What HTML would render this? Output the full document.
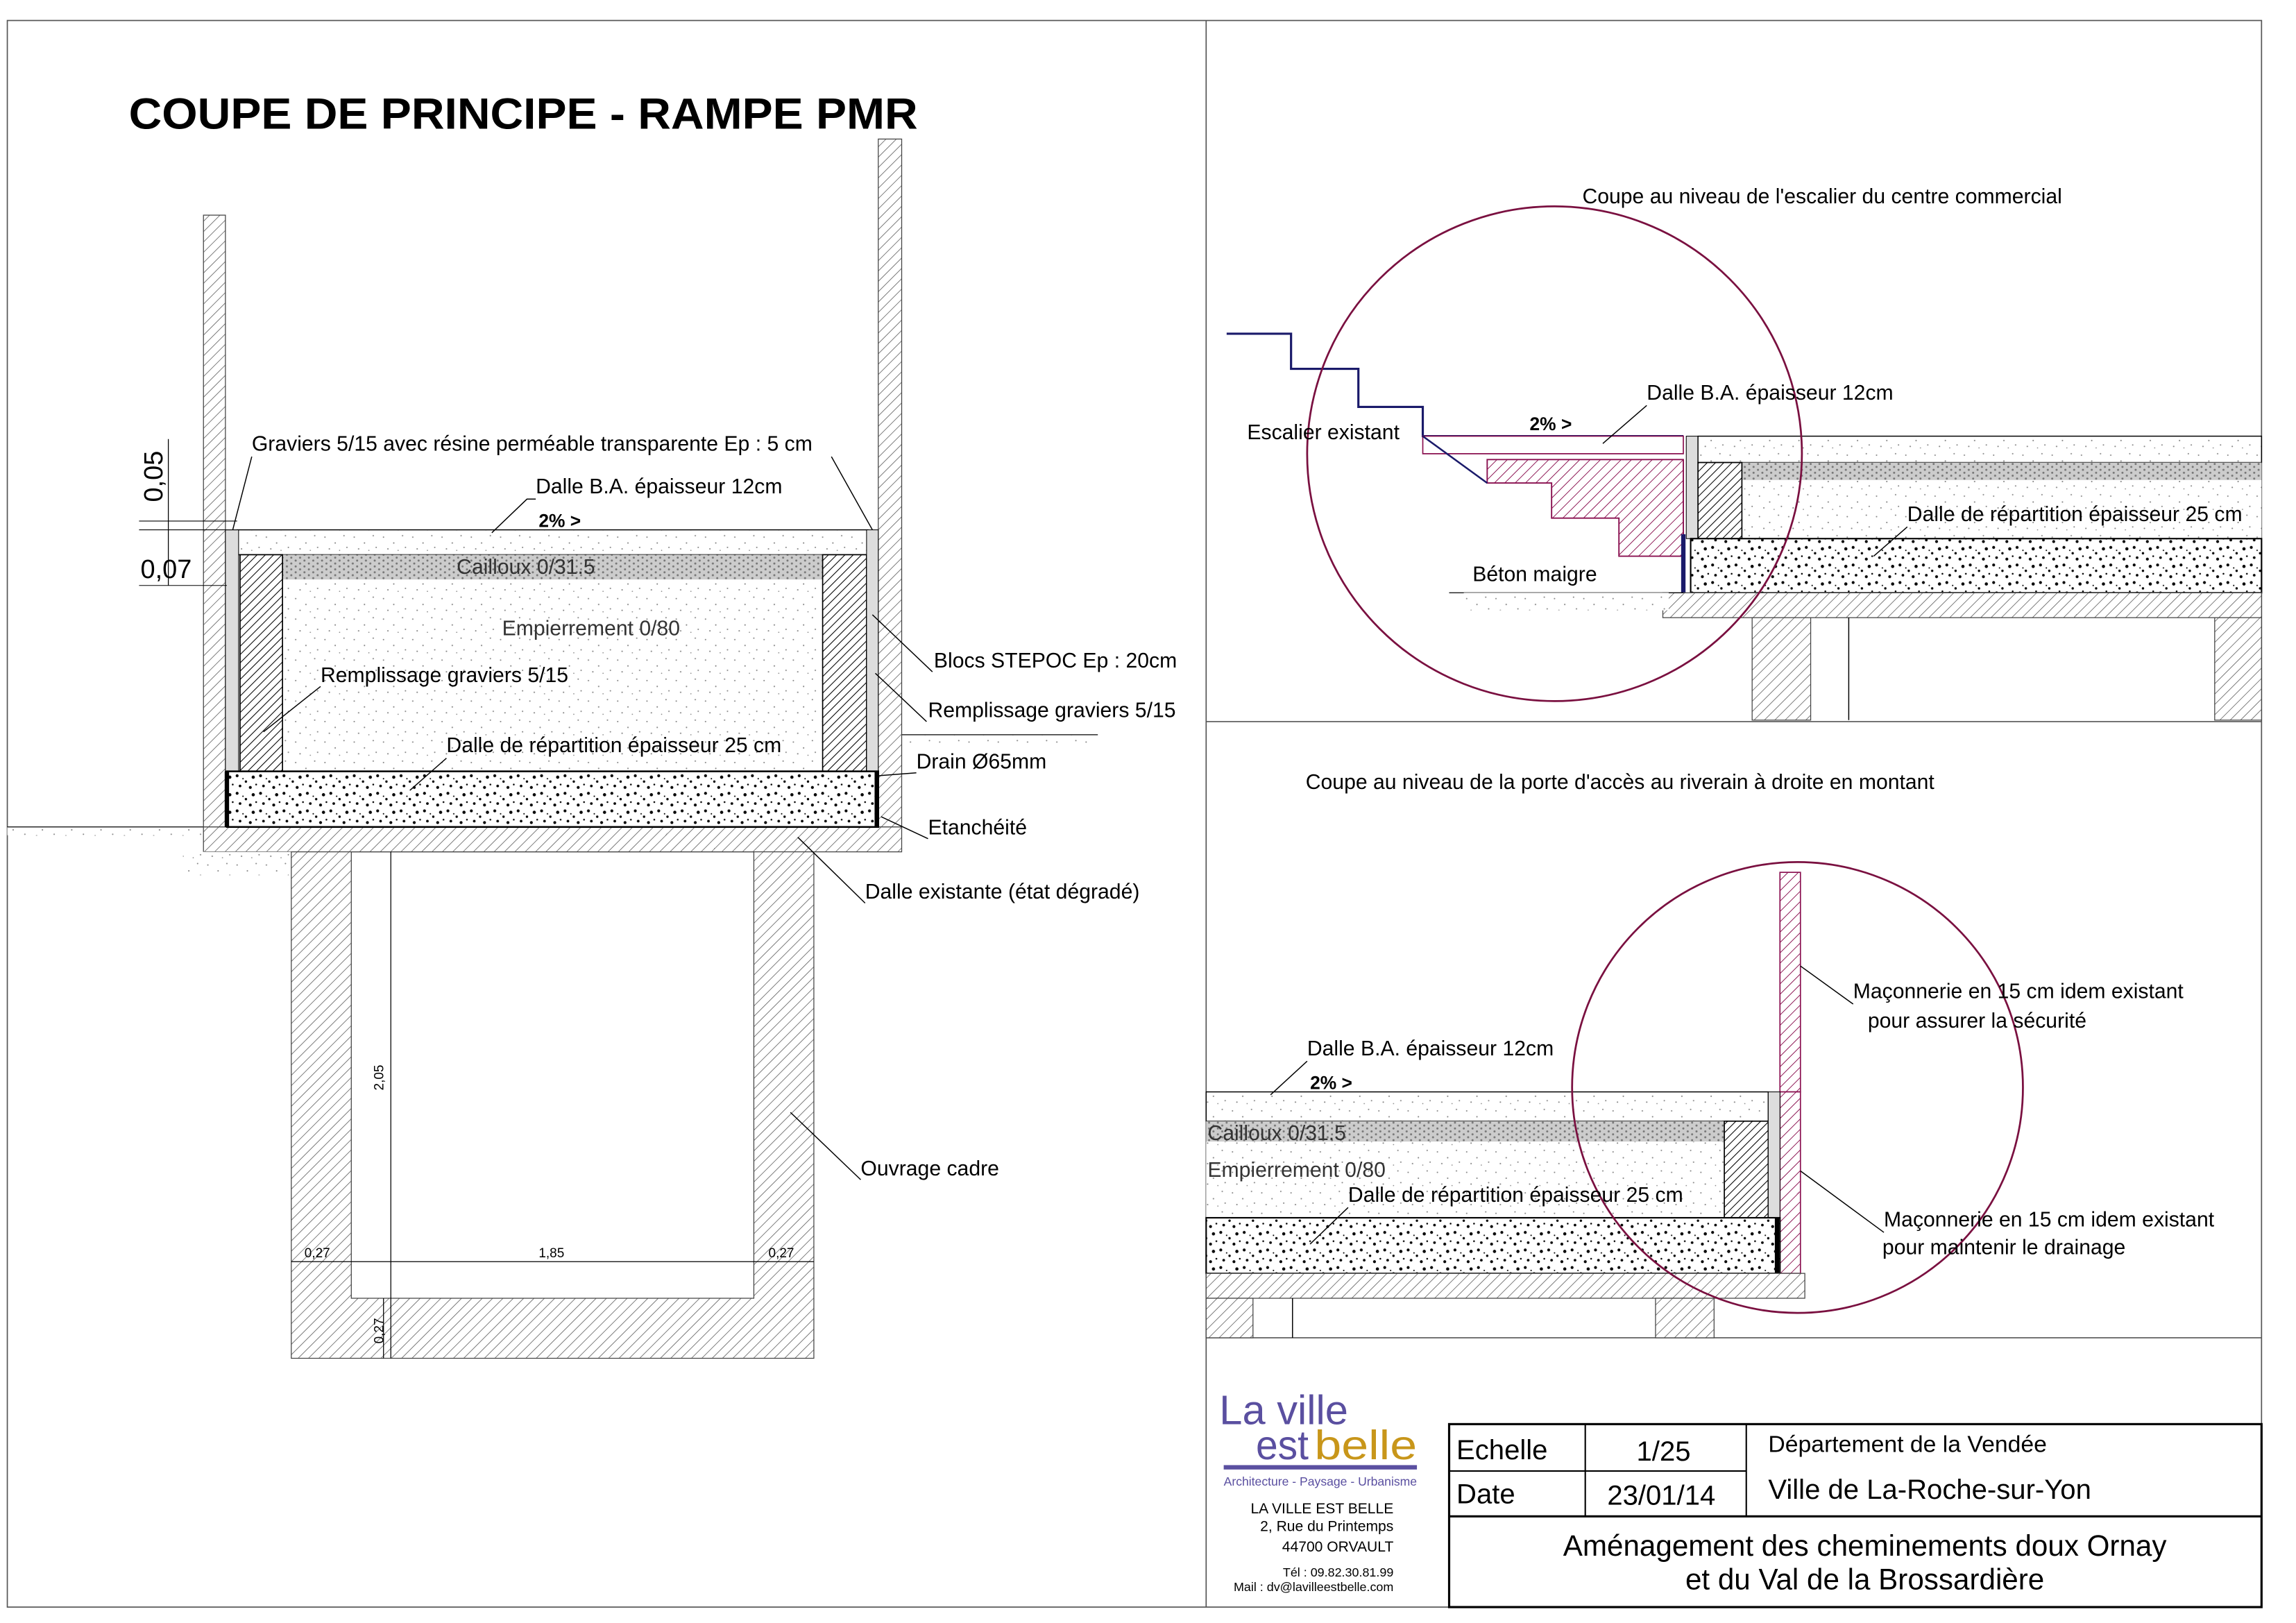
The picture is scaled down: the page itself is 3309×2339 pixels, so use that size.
<!DOCTYPE html>
<html><head><meta charset="utf-8"><style>
html,body{margin:0;padding:0;background:#fff}
svg{display:block}
text{font-family:"Liberation Sans",Arial,sans-serif}
</style></head><body>
<svg width="3309" height="2339" viewBox="0 0 1556 1100" preserveAspectRatio="none" xmlns="http://www.w3.org/2000/svg">
<defs>
<pattern id="h" width="5" height="5" patternUnits="userSpaceOnUse" patternTransform="rotate(45)">
<rect width="5" height="5" fill="#fff"/><line x1="0" y1="0" x2="0" y2="5" stroke="#666" stroke-width="0.8"/></pattern>
<pattern id="hd" width="4" height="4" patternUnits="userSpaceOnUse" patternTransform="rotate(45)">
<rect width="4" height="4" fill="#fff"/><line x1="0" y1="0" x2="0" y2="4" stroke="#000" stroke-width="1"/></pattern>
<pattern id="hm" width="5" height="5" patternUnits="userSpaceOnUse" patternTransform="rotate(45)">
<rect width="5" height="5" fill="#fff"/><line x1="0" y1="0" x2="0" y2="5" stroke="#8a1050" stroke-width="0.9"/></pattern>
<pattern id="d1" width="20" height="14" patternUnits="userSpaceOnUse">
<rect width="20" height="14" fill="#fff"/>
<circle cx="2" cy="3" r=".5" fill="#888"/><circle cx="9" cy="7" r=".5" fill="#888"/><circle cx="15" cy="2" r=".5" fill="#888"/><circle cx="5" cy="11" r=".5" fill="#888"/><circle cx="17" cy="10" r=".5" fill="#888"/><circle cx="12" cy="12" r=".4" fill="#888"/></pattern>
<pattern id="d2" width="16" height="12" patternUnits="userSpaceOnUse">
<rect width="16" height="12" fill="#fff"/>
<circle cx="2" cy="2" r="1" fill="#000"/><circle cx="8" cy="6" r=".8" fill="#000"/><circle cx="13" cy="3" r="1.1" fill="#000"/><circle cx="4" cy="9" r=".9" fill="#000"/><circle cx="11" cy="10" r="1" fill="#000"/><circle cx="15" cy="8" r=".6" fill="#000"/><circle cx="6" cy="4" r=".5" fill="#000"/></pattern>
<pattern id="d3" width="6" height="4" patternUnits="userSpaceOnUse">
<rect width="6" height="4" fill="#ccc"/><circle cx="1" cy="1" r=".7" fill="#777"/><circle cx="4" cy="3" r=".7" fill="#777"/></pattern>
</defs>
<rect x="0" y="0" width="1556" height="1100" fill="#fff"/>
<g transform="scale(0.992)">
<rect x="5" y="14" width="1540" height="1084" fill="none" stroke="#555" stroke-width="0.8"/>
<line x1="824" y1="14" x2="824" y2="1098" stroke="#555" stroke-width="0.8"/>
<line x1="824" y1="493" x2="1545" y2="493" stroke="#555" stroke-width="0.8"/>
<line x1="824" y1="914" x2="1545" y2="914" stroke="#555" stroke-width="0.8"/>

<text x="88" y="88" font-size="30" font-weight="bold" textLength="539" lengthAdjust="spacingAndGlyphs">COUPE DE PRINCIPE - RAMPE PMR</text>

<!-- left drawing -->
<rect x="5" y="565" width="134" height="6" fill="url(#d1)"/>
<rect x="616" y="502" width="134" height="8" fill="url(#d1)"/>
<line x1="5" y1="565" x2="139" y2="565" stroke="#000" stroke-width=".6"/>
<line x1="616" y1="502" x2="750" y2="502" stroke="#000" stroke-width=".6"/>
<rect x="139" y="147" width="15" height="418" fill="url(#h)" stroke="#444" stroke-width=".6"/>
<rect x="600" y="95" width="16" height="470" fill="url(#h)" stroke="#444" stroke-width=".6"/>
<rect x="139" y="565" width="477" height="17" fill="url(#h)" stroke="#444" stroke-width=".6"/>
<rect x="125" y="582" width="74" height="16" fill="url(#d1)"/>
<path d="M199 582 H556 V928 H199 Z M240 582 V887 H515 V582 Z" fill="url(#h)" fill-rule="evenodd" stroke="#444" stroke-width=".6"/>
<rect x="162" y="362" width="431" height="17" fill="url(#d1)" stroke="#000" stroke-width=".7"/>
<rect x="193" y="379" width="370" height="17" fill="url(#d3)"/>
<rect x="193" y="396" width="370" height="131" fill="url(#d1)"/>
<rect x="164" y="379" width="29" height="148" fill="url(#hd)" stroke="#000" stroke-width=".8"/>
<rect x="562" y="379" width="30" height="148" fill="url(#hd)" stroke="#000" stroke-width=".8"/>
<rect x="154" y="362" width="9" height="165" fill="#ddd" stroke="#000" stroke-width=".5"/>
<rect x="592" y="362" width="8" height="165" fill="#ddd" stroke="#000" stroke-width=".5"/>
<rect x="155" y="527" width="445" height="38" fill="url(#d2)" stroke="#000" stroke-width="1.2"/>
<line x1="155" y1="527" x2="155" y2="565" stroke="#000" stroke-width="3"/>
<line x1="599" y1="527" x2="599" y2="565" stroke="#000" stroke-width="3"/>
<!-- dims -->
<line x1="267" y1="582" x2="267" y2="928" stroke="#000" stroke-width=".6"/>
<text x="262" y="745" font-size="9" transform="rotate(-90 262 745)">2,05</text>
<line x1="199" y1="862" x2="556" y2="862" stroke="#000" stroke-width=".6"/>
<text x="208" y="859" font-size="9">0,27</text><text x="368" y="859" font-size="9">1,85</text><text x="525" y="859" font-size="9">0,27</text>
<line x1="262" y1="887" x2="262" y2="928" stroke="#000" stroke-width=".6"/>
<text x="262" y="918" font-size="9" transform="rotate(-90 262 918)">0,27</text>
<line x1="115" y1="300" x2="115" y2="400" stroke="#000" stroke-width=".6"/>
<line x1="95" y1="362" x2="162" y2="362" stroke="#000" stroke-width=".5"/>
<line x1="95" y1="356" x2="162" y2="356" stroke="#000" stroke-width=".5"/>
<line x1="95" y1="400" x2="155" y2="400" stroke="#000" stroke-width=".5"/>
<text x="111" y="343" font-size="18" transform="rotate(-90 111 343)">0,05</text>
<text x="96" y="395" font-size="18">0,07</text>
<!-- labels left -->
<g font-size="14.3">
<text x="172" y="308">Graviers 5/15 avec résine perméable transparente Ep : 5 cm</text>
<text x="366" y="337">Dalle B.A. épaisseur 12cm</text>
<text x="368" y="360" font-weight="bold" font-size="12.5">2% &gt;</text>
<text x="312" y="392" fill="#333">Cailloux 0/31.5</text>
<text x="343" y="434" fill="#333">Empierrement 0/80</text>
<text x="219" y="466">Remplissage graviers 5/15</text>
<text x="305" y="514">Dalle de répartition épaisseur 25 cm</text>
<text x="638" y="456">Blocs STEPOC Ep : 20cm</text>
<text x="634" y="490">Remplissage graviers 5/15</text>
<text x="626" y="525">Drain Ø65mm</text>
<text x="634" y="570">Etanchéité</text>
<text x="591" y="614">Dalle existante (état dégradé)</text>
<text x="588" y="803">Ouvrage cadre</text>
</g>
<g stroke="#000" stroke-width=".7" fill="none">
<path d="M172 312 L159 362"/><path d="M568 312 L596 362"/><path d="M366 341 H360 L336 364"/>
<path d="M637 459 L596 420"/><path d="M219 469 L180 500"/><path d="M633 493 L598 460"/>
<path d="M305 518 L280 540"/><path d="M626 528 L600 530"/><path d="M634 573 L602 558"/>
<path d="M591 617 L545 572"/><path d="M588 806 L540 760"/>
</g>

<!-- top right -->
<text x="1081" y="139" font-size="14.3">Coupe au niveau de l'escalier du centre commercial</text>
<polyline points="838,228 882,228 882,252 928,252 928,278 972,278 972,298 1150,298" fill="none" stroke="#1a1a6a" stroke-width="1.5"/>
<path d="M972 298 H1150 V310 H972 Z" fill="#fff" stroke="#8a1050" stroke-width=".8"/>
<path d="M1016 314 H1150 V380 H1106 V354 H1060 V330 H1016 Z" fill="url(#hm)" stroke="#8a1050" stroke-width=".9"/>
<line x1="972" y1="298" x2="1016" y2="330" stroke="#1a1a6a" stroke-width="1.2"/>
<line x1="1150" y1="365" x2="1150" y2="405" stroke="#1a1a6a" stroke-width="3"/>
<rect x="1152" y="298" width="8" height="70" fill="#ddd" stroke="#000" stroke-width=".5"/>
<rect x="1160" y="298" width="385" height="18" fill="url(#d1)" stroke="#000" stroke-width=".7"/>
<rect x="1190" y="316" width="355" height="12" fill="url(#d3)"/>
<rect x="1190" y="328" width="355" height="40" fill="url(#d1)"/>
<rect x="1160" y="316" width="30" height="52" fill="url(#hd)" stroke="#000" stroke-width=".8"/>
<rect x="1155" y="368" width="390" height="37" fill="url(#d2)" stroke="#000" stroke-width="1"/>
<rect x="1136" y="405" width="409" height="17" fill="url(#h)" stroke="#444" stroke-width=".6"/>
<rect x="1197" y="422" width="40" height="70" fill="url(#h)" stroke="#444" stroke-width=".6"/>
<rect x="1513" y="422" width="32" height="70" fill="url(#h)" stroke="#444" stroke-width=".6"/>
<line x1="1263" y1="422" x2="1263" y2="492" stroke="#000" stroke-width=".7"/>
<line x1="990" y1="405" x2="1150" y2="405" stroke="#000" stroke-width=".6"/>
<rect x="1000" y="405" width="140" height="12" fill="url(#d1)"/>
<circle cx="1062" cy="310" r="169" fill="none" stroke="#7a1040" stroke-width="1.3"/>
<g font-size="14.3">
<text x="1125" y="273">Dalle B.A. épaisseur 12cm</text>
<text x="1045" y="294" font-weight="bold" font-size="12.5">2% &gt;</text>
<text x="852" y="300">Escalier existant</text>
<text x="1006" y="397">Béton maigre</text>
<text x="1303" y="356">Dalle de répartition épaisseur 25 cm</text>
</g>
<g stroke="#000" stroke-width=".7" fill="none"><path d="M1125 277 L1095 303"/><path d="M1303 360 L1280 380"/></g>

<!-- bottom right -->
<text x="892" y="539" font-size="14.3">Coupe au niveau de la porte d'accès au riverain à droite en montant</text>
<rect x="1216" y="596" width="14" height="150" fill="url(#hm)" stroke="#8a1050" stroke-width=".8"/>
<rect x="1216" y="746" width="14" height="124" fill="url(#hm)" stroke="#8a1050" stroke-width=".8"/>
<rect x="824" y="746" width="384" height="20" fill="url(#d1)" stroke="#000" stroke-width=".7"/>
<rect x="824" y="766" width="354" height="14" fill="url(#d3)"/>
<rect x="824" y="780" width="354" height="52" fill="url(#d1)"/>
<rect x="1178" y="766" width="30" height="66" fill="url(#hd)" stroke="#000" stroke-width=".8"/>
<rect x="1208" y="746" width="8" height="86" fill="#ddd" stroke="#000" stroke-width=".5"/>
<rect x="824" y="832" width="392" height="38" fill="url(#d2)" stroke="#000" stroke-width="1"/>
<line x1="1214" y1="832" x2="1214" y2="870" stroke="#000" stroke-width="3"/>
<rect x="824" y="870" width="409" height="17" fill="url(#h)" stroke="#444" stroke-width=".6"/>
<rect x="824" y="887" width="32" height="27" fill="url(#h)" stroke="#444" stroke-width=".6"/>
<rect x="1131" y="887" width="40" height="27" fill="url(#h)" stroke="#444" stroke-width=".6"/>
<line x1="883" y1="887" x2="883" y2="914" stroke="#000" stroke-width=".7"/>
<circle cx="1228" cy="743" r="154" fill="none" stroke="#7a1040" stroke-width="1.3"/>
<g font-size="14.3">
<text x="893" y="721">Dalle B.A. épaisseur 12cm</text>
<text x="895" y="744" font-weight="bold" font-size="12.5">2% &gt;</text>
<text x="825" y="779" fill="#333">Cailloux 0/31.5</text>
<text x="825" y="804" fill="#333">Empierrement 0/80</text>
<text x="921" y="821">Dalle de répartition épaisseur 25 cm</text>
<text x="1266" y="682">Maçonnerie en 15 cm idem existant</text>
<text x="1276" y="702">pour assurer la sécurité</text>
<text x="1287" y="838">Maçonnerie en 15 cm idem existant</text>
<text x="1286" y="857">pour maintenir le drainage</text>
</g>
<g stroke="#000" stroke-width=".7" fill="none"><path d="M893 725 L868 748"/><path d="M921 825 L895 850"/><path d="M1266 686 L1230 660"/><path d="M1287 842 L1230 800"/></g>

<!-- logo -->
<text x="833" y="973" font-size="28" fill="#5a4fa0" textLength="88" lengthAdjust="spacingAndGlyphs">La ville</text>
<text x="858" y="997" font-size="28" fill="#5a4fa0" textLength="36" lengthAdjust="spacingAndGlyphs">est</text>
<text x="898" y="997" font-size="28" fill="#c8961a" textLength="70" lengthAdjust="spacingAndGlyphs">belle</text>
<rect x="836" y="1001" width="132" height="3" fill="#5a4fa0"/>
<text x="836" y="1015" font-size="8.5" fill="#5a4fa0" textLength="132" lengthAdjust="spacingAndGlyphs">Architecture - Paysage - Urbanisme</text>
<g font-size="10" text-anchor="end">
<text x="952" y="1034">LA VILLE EST BELLE</text>
<text x="952" y="1046">2, Rue du Printemps</text>
<text x="952" y="1060">44700 ORVAULT</text>
<text x="952" y="1077" font-size="8.5">Tél : 09.82.30.81.99</text>
<text x="952" y="1087" font-size="8.5">Mail : dv@lavilleestbelle.com</text>
</g>
<!-- title block -->
<g stroke="#000" fill="none">
<rect x="990" y="973" width="555" height="125" stroke-width="1.5"/>
<line x1="990" y1="1036" x2="1545" y2="1036" stroke-width="1.5"/>
<line x1="990" y1="1005" x2="1193" y2="1005" stroke-width="1"/>
<line x1="1083" y1="973" x2="1083" y2="1036" stroke-width="1"/>
<line x1="1193" y1="973" x2="1193" y2="1036" stroke-width="1"/>
</g>
<text x="995" y="997" font-size="19">Echelle</text>
<text x="1118" y="998" font-size="19">1/25</text>
<text x="995" y="1027" font-size="19">Date</text>
<text x="1098" y="1028" font-size="19">23/01/14</text>
<text x="1208" y="992" font-size="16">Département de la Vendée</text>
<text x="1208" y="1024" font-size="19">Ville de La-Roche-sur-Yon</text>
<text x="1274" y="1063" font-size="20" text-anchor="middle">Aménagement des cheminements doux Ornay</text>
<text x="1274" y="1086" font-size="20" text-anchor="middle">et du Val de la Brossardière</text>
</g>
</svg>
</body></html>
